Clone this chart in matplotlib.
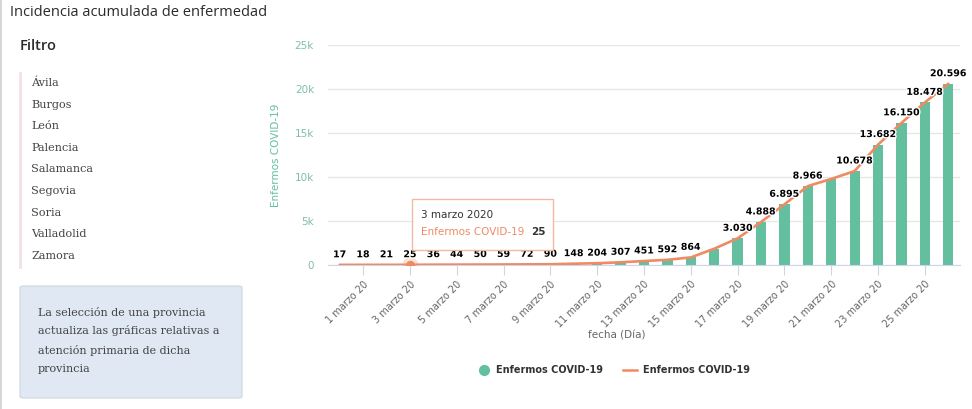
"""
Incidencia acumulada de enfermedad - COVID-19 (marzo 2020).
"""
import matplotlib
matplotlib.use('Agg')
import matplotlib.pyplot as plt
import matplotlib.patheffects as pe
from matplotlib.patches import FancyBboxPatch, Rectangle
from matplotlib.lines import Line2D

W, H = 972, 409

# Datos
fechas = ['29 febrero 20'] + [f'{d} marzo 20' for d in range(1, 27)]
enfermos = [17, 18, 21, 25, 36, 44, 50, 59, 72, 90, 148, 204, 307, 451,
            592, 864, 1850, 3030, 4888, 6895, 8966, 9780, 10678, 13682,
            16150, 18478, 20596]
# etiquetas ocultas por solapamiento
sin_etiqueta = ['16 marzo 20', '21 marzo 20']
provincias = ['Ávila', 'Burgos', 'León', 'Palencia', 'Salamanca',
              'Segovia', 'Soria', 'Valladolid', 'Zamora']
nota = ['La selección de una provincia',
        'actualiza las gráficas relativas a',
        'atención primaria de dicha',
        'provincia']
y_ticks = [0, 5000, 10000, 15000, 20000, 25000]
y_labels = ['0', '5k', '10k', '15k', '20k', '25k']
tooltip_idx = 3

VERDE = '#63bf9d'
NARANJA = '#ef8a62'


def fx(px):
    return px / W


def fy(py):
    return 1 - py / H


def fmt(v):
    return f'{v:,}'.replace(',', '.')


fig = plt.figure(figsize=(W / 100, H / 100), dpi=100)
fig.patch.set_facecolor('white')

# Borde de la tarjeta
fig.add_artist(Line2D([fx(1), fx(1)], [0, 1], color='#d0d0d0', lw=1.2))

# Panel izquierdo
fig.text(fx(10), fy(12), 'Incidencia acumulada de enfermedad',
         family='Open Sans', fontsize=10.5, color='#2b2b2b', va='center')
fig.text(fx(20), fy(46), 'Filtro', family='Open Sans', fontsize=10.5,
         fontweight='semibold', color='#2b2b2b', va='center')
fig.add_artist(Line2D([fx(20), fx(20)], [fy(73), fy(267)],
                      color='#f3e1e6', lw=2))
for i, p in enumerate(provincias):
    fig.text(fx(31), fy(83 + i * 21.6), p, family='DejaVu Serif',
             fontsize=8.1, color='#444444', va='center')

fig.add_artist(FancyBboxPatch((fx(20), fy(398)), fx(222), 112 / H,
                              boxstyle='round,pad=0,rounding_size=0.004',
                              fc='#dfe8f3', ec='#cdd6e0', lw=0.8))
for i, linea in enumerate(nota):
    fig.text(fx(38), fy(312 + i * 19), linea, family='DejaVu Serif',
             fontsize=8, color='#444444', va='center')

# Gráfico
ax = fig.add_axes([fx(328), fy(265), (960 - 328) / W, (265 - 45) / H])
x = list(range(len(fechas)))
ax.bar(x, enfermos, width=0.44, color=VERDE, zorder=2)
ax.plot(x, enfermos, color=NARANJA, lw=1.9, zorder=3,
        solid_capstyle='round')

for xi, f, v in zip(x, fechas, enfermos):
    if f in sin_etiqueta:
        continue
    t = ax.annotate(fmt(v), (xi, v), xytext=(0, 4),
                    textcoords='offset points', ha='center', va='bottom',
                    fontsize=6.8, fontweight='bold', color='black', zorder=5)
    t.set_path_effects([pe.withStroke(linewidth=2, foreground='white')])

# Punto resaltado del tooltip
ax.scatter([tooltip_idx], [enfermos[tooltip_idx]], s=140, color=NARANJA,
           alpha=0.25, zorder=4, lw=0)
ax.scatter([tooltip_idx], [enfermos[tooltip_idx]], s=45, color=NARANJA,
           zorder=4, lw=0)

ax.set_xlim(-0.5, len(fechas) - 0.5)
ax.set_ylim(0, 25000)
ax.set_yticks(y_ticks)
ax.set_yticklabels(y_labels)
ax.yaxis.grid(True, color='#e6e6e6', lw=0.9)
ax.set_axisbelow(True)
for s in ['top', 'right', 'left']:
    ax.spines[s].set_visible(False)
ax.spines['bottom'].set_color('#ccd6eb')
ax.tick_params(axis='y', length=0, colors='#7fbfa5', labelsize=7.5, pad=10)

ticks_x = x[1::2]
ax.set_xticks(ticks_x)
ax.set_xticklabels([fechas[i] for i in ticks_x], rotation=45, ha='right',
                   rotation_mode='anchor', fontsize=7, color='#666666')
ax.tick_params(axis='x', length=7, color='#ccd6eb', pad=3)

ax.set_ylabel('Enfermos COVID-19', color='#63bf9d', fontsize=7.5)
ax.yaxis.set_label_coords(-(328 - 281) / (960 - 328), 0.5)

fig.text(fx(617), fy(336), 'fecha (Día)', fontsize=7.5, color='#666666',
         ha='center', va='center')

# Leyenda
fig.add_artist(Line2D([fx(484)], [fy(370)], marker='o', markersize=7,
                      color=VERDE, lw=0))
fig.text(fx(496), fy(370), 'Enfermos COVID-19', fontsize=7,
         fontweight='bold', color='#333333', va='center')
fig.add_artist(Line2D([fx(623), fx(637)], [fy(370), fy(370)],
                      color=NARANJA, lw=1.8))
fig.text(fx(643), fy(370), 'Enfermos COVID-19', fontsize=7,
         fontweight='bold', color='#333333', va='center')

# Tooltip
fig.add_artist(Rectangle((fx(412), fy(250)), fx(141), 51 / H,
                         fc='white', ec='#f4b59c', lw=1, alpha=0.95,
                         zorder=10))
fig.text(fx(421), fy(215), '3 marzo 2020', fontsize=7.5, color='#333333',
         va='center', zorder=11)
fig.text(fx(421), fy(232), 'Enfermos COVID-19', fontsize=7.5,
         color=NARANJA, va='center', zorder=11)
fig.text(fx(531), fy(232), str(enfermos[tooltip_idx]), fontsize=7.5,
         fontweight='bold', color='#333333', va='center', zorder=11)

fig.savefig('out.png', dpi=100)
